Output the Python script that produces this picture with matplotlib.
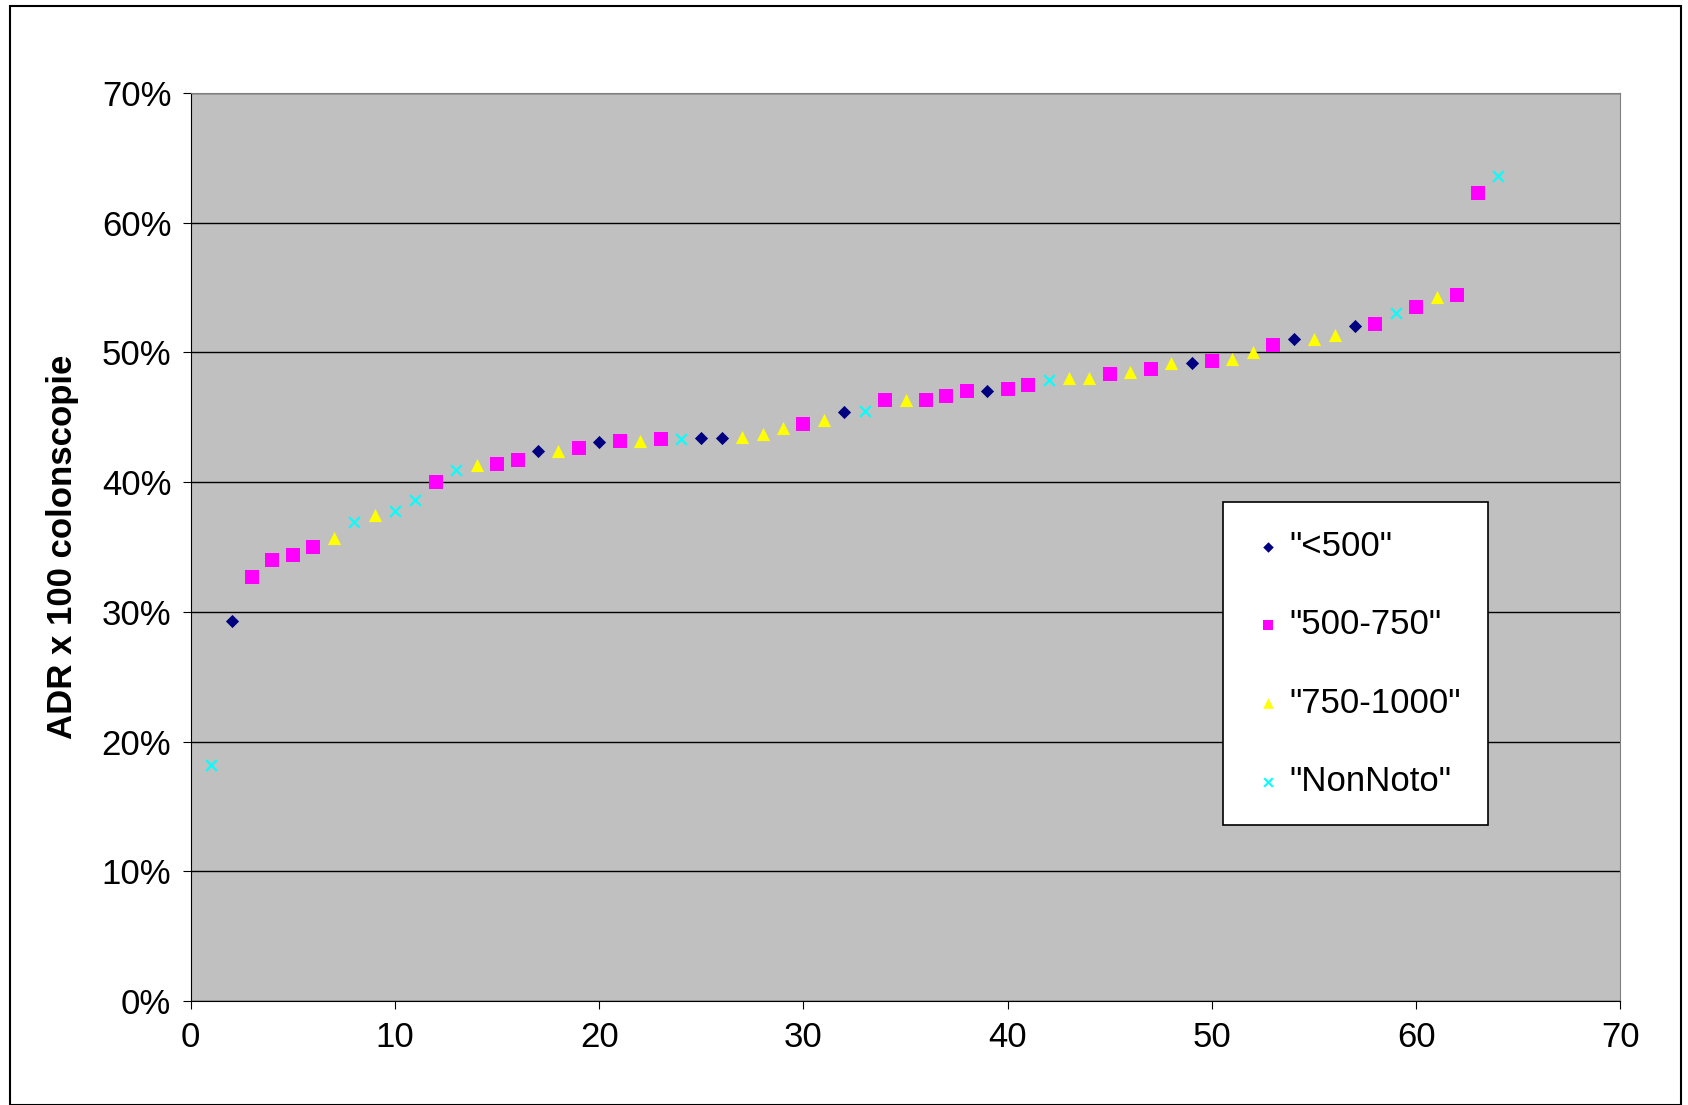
import matplotlib.pyplot as plt
from matplotlib.ticker import PercentFormatter
from matplotlib.patches import Rectangle

plt.rcParams['font.family'] = ['Liberation Sans', 'DejaVu Sans']

groups = ['N', 'A', 'B', 'B', 'B', 'B', 'C', 'N', 'C', 'N',
          'N', 'B', 'N', 'C', 'B', 'B', 'A', 'C', 'B', 'A',
          'B', 'C', 'B', 'N', 'A', 'A', 'C', 'C', 'C', 'B',
          'C', 'A', 'N', 'B', 'C', 'B', 'B', 'B', 'A', 'B',
          'B', 'N', 'C', 'C', 'B', 'C', 'B', 'C', 'A', 'B',
          'C', 'C', 'B', 'A', 'C', 'C', 'A', 'B', 'N', 'B',
          'C', 'B', 'B', 'N']
adr = [0.182, 0.293, 0.327, 0.340, 0.344, 0.350, 0.357, 0.369, 0.375, 0.378,
       0.386, 0.400, 0.409, 0.413, 0.414, 0.417, 0.424, 0.424, 0.426, 0.431,
       0.432, 0.432, 0.433, 0.433, 0.434, 0.434, 0.435, 0.437, 0.442, 0.445,
       0.448, 0.454, 0.455, 0.463, 0.463, 0.463, 0.466, 0.470, 0.470, 0.472,
       0.475, 0.479, 0.480, 0.480, 0.483, 0.485, 0.487, 0.492, 0.492, 0.493,
       0.495, 0.500, 0.506, 0.510, 0.510, 0.513, 0.520, 0.522, 0.530, 0.535,
       0.543, 0.544, 0.623, 0.636]
x = list(range(1, len(adr) + 1))

styles = {
    'A': ('"<500"', 'D', '#000080', 45),
    'B': ('"500-750"', 's', '#FF00FF', 90),
    'C': ('"750-1000"', '^', '#FFFF00', 90),
    'N': ('"NonNoto"', 'x', '#00FFFF', 60),
}

fig = plt.figure(figsize=(16.88, 11.05), dpi=100)
fig.patches.append(Rectangle((0.006, 0.0), 0.99, 0.995, transform=fig.transFigure,
                             fill=False, edgecolor='black', linewidth=1.5))
ax = fig.add_axes([0.113, 0.094, 0.847, 0.822])
ax.set_facecolor('#C0C0C0')

for key, (label, marker, color, size) in styles.items():
    xs = [xi for xi, g in zip(x, groups) if g == key]
    ys = [yi for yi, g in zip(adr, groups) if g == key]
    ax.scatter(xs, ys, marker=marker, c=color, s=size, label=label,
               linewidths=1.5 if marker == 'x' else 0, zorder=3)

ax.set_xlim(0, 70)
ax.set_ylim(0, 0.7)
ax.set_xticks(range(0, 71, 10))
ax.set_yticks([i / 10 for i in range(8)])
ax.yaxis.set_major_formatter(PercentFormatter(1.0, decimals=0))
ax.grid(axis='y', color='black', linewidth=1)
ax.set_axisbelow(True)
ax.tick_params(labelsize=25, direction='out', length=6, pad=8)
for s in ['top', 'right']:
    ax.spines[s].set_color('#808080')
ax.set_ylabel('ADR x 100 colonscopie', fontsize=25, fontweight='bold', labelpad=16)

leg = ax.legend(loc='upper left', bbox_to_anchor=(0.722, 0.549),
                fontsize=25, frameon=True, fancybox=False,
                edgecolor='black', facecolor='white', framealpha=1,
                labelspacing=1.3, handletextpad=0.1,
                borderpad=0.8, borderaxespad=0, markerscale=0.8, handlelength=1.0)
leg.get_frame().set_linewidth(1.2)

fig.savefig('out.png', dpi=100)
